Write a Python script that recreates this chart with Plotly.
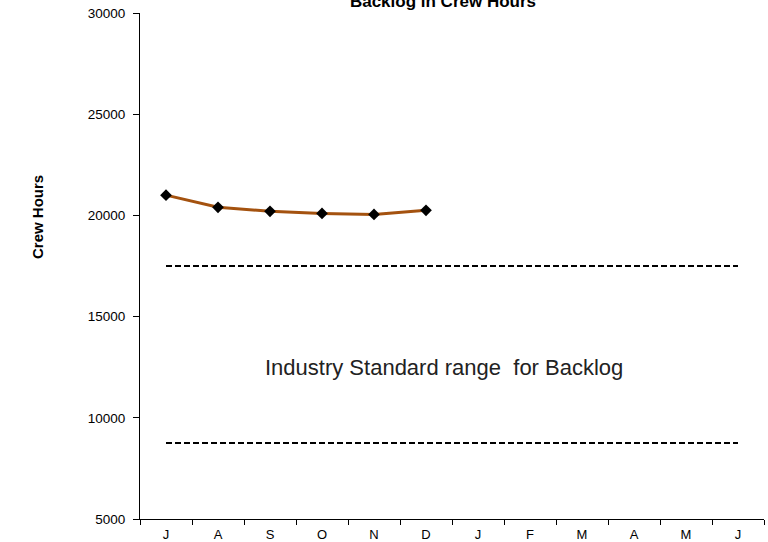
import plotly.graph_objects as go

months = ["J", "A", "S", "O", "N", "D", "J", "F", "M", "A", "M", "J"]
backlog = [21000, 20400, 20200, 20100, 20050, 20250]
upper_std = [17500] * 12
lower_std = [8750] * 12
x_idx = list(range(len(months)))

W, H = 768, 542
L, R, T, B = 140, 4, 13, 23
plot_w = W - L - R
plot_h = H - T - B

fig = go.Figure()
fig.add_trace(go.Scatter(x=x_idx, y=upper_std, mode="lines",
                         line=dict(color="black", width=2, dash="6px,3px"), hoverinfo="skip"))
fig.add_trace(go.Scatter(x=x_idx, y=lower_std, mode="lines",
                         line=dict(color="black", width=2, dash="6px,3px"), hoverinfo="skip"))
fig.add_trace(go.Scatter(x=x_idx[:len(backlog)], y=backlog, mode="lines+markers",
                         line=dict(color="#A4520F", width=3),
                         marker=dict(symbol="diamond", size=9, color="black")))

fig.update_layout(
    width=W, height=H,
    margin=dict(l=L, r=R, t=T, b=B, autoexpand=False),
    paper_bgcolor="white", plot_bgcolor="white",
    showlegend=False,
    font=dict(family="Liberation Sans, Arial, sans-serif", color="black", size=13.5),
    title=dict(text="<b>Backlog in Crew Hours</b>", x=443/W, xanchor="center",
               yref="container", y=1 - 7/H, yanchor="bottom",
               font=dict(size=17, color="black")),
    xaxis=dict(range=[-0.5, 11.5], tickvals=x_idx, ticktext=months,
               ticks="outside", ticklen=3, tickcolor="rgba(0,0,0,0)", ticklabelstandoff=0,
               showgrid=False, zeroline=False, showline=True, linecolor="black", linewidth=1,
               minor=dict(tickvals=[i - 0.5 for i in range(13)], ticks="outside",
                          ticklen=5, tickcolor="black", showgrid=False),
               tickfont=dict(size=13), automargin=False),
    yaxis=dict(range=[5000, 30000], dtick=5000, tickformat="d", ticks="outside", ticklen=6,
               tickcolor="black", showgrid=False, zeroline=False, automargin=False,
               ticklabelstandoff=5,
               showline=True, linecolor="black", linewidth=1, tickfont=dict(size=13.5)),
    annotations=[
        dict(text="Industry Standard range&nbsp; for Backlog",
             x=(444 - L) / plot_w, y=(H - B - 367) / plot_h,
             xanchor="center", yanchor="middle",
             xref="paper", yref="paper", showarrow=False,
             font=dict(family="Liberation Sans, Arial, sans-serif", size=22, color="#222")),
        dict(text="<b>Crew Hours</b>", x=(37 - L) / plot_w, y=(H - B - 217) / plot_h,
             xanchor="center", yanchor="middle",
             xref="paper", yref="paper",
             showarrow=False, textangle=-90, font=dict(size=15, color="black")),
    ],
)
fig.write_html("out.html", config={"displayModeBar": False},
               post_script="document.body.style.margin='0';document.body.style.padding='0';")
